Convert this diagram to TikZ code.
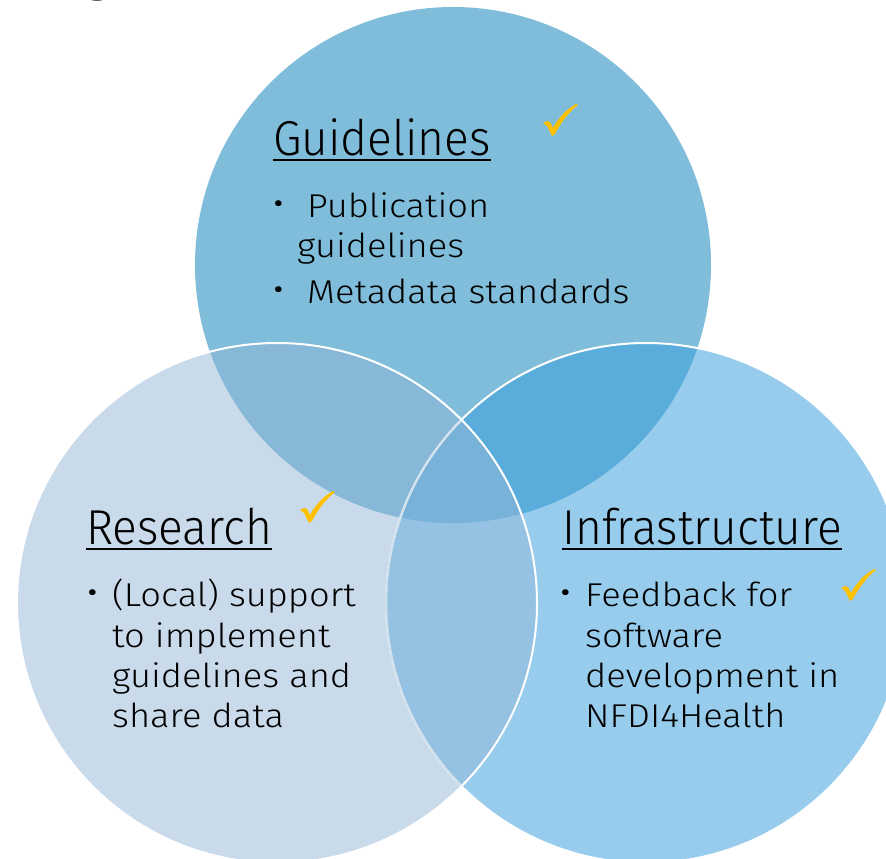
\documentclass[tikz,border=0pt]{standalone}
\usepackage{fontspec}
\setmainfont{Fira Sans}[UprightFont=* Light]
\newfontfamily\hdfont{Fira Sans}[UprightFont=* Light, FakeStretch=0.94]
\newfontfamily\bdfont{Fira Sans}[UprightFont=* Light, FakeStretch=1.1]
\definecolor{cT}{HTML}{7FBDDA}
\definecolor{cL}{HTML}{C9DAEA}
\definecolor{cR}{HTML}{97CCED}
\definecolor{cTL}{HTML}{88B8D8}
\definecolor{cTR}{HTML}{5AADDB}
\definecolor{cLR}{HTML}{95C1E3}
\definecolor{cTLR}{HTML}{79B2D9}
\definecolor{cFade}{HTML}{D2E1EC}
\definecolor{cY}{HTML}{FFC000}
\begin{document}
\begin{tikzpicture}[x=1pt,y=-1pt,
  hd/.style={anchor=base west, inner sep=0pt, font=\hdfont\fontsize{49}{55}\selectfont},
  bd/.style={anchor=base west, inner sep=0pt, font=\bdfont\fontsize{33}{39}\selectfont},
  bul/.style={anchor=base west, inner sep=0pt, font=\bdfont\fontsize{40}{44}\selectfont},
  ul/.style={line width=2pt, black},
  chk/.pic={\fill[cY] (0,19) -- (4,17) -- (7,18) -- (10,24) .. controls (16,13) and (24,5) .. (33,0) -- (35,1) .. controls (27,7) and (18,18) .. (12,30) -- (9,32) -- (7,28) -- (4,22) -- cycle;}]
\useasboundingbox (0,0) rectangle (886,859);
\clip (0,0) rectangle (886,859);
% base circles
\fill[cT] (453,265) circle[radius=258pt];
\fill[cR] (646,603) circle[radius=260pt];
\fill[cL] (277,603) circle[radius=260pt];
% pairwise overlaps
\begin{scope}
  \clip (453,265) circle[radius=258pt];
  \fill[cTL] (277,603) circle[radius=260pt];
  \fill[cTR] (646,603) circle[radius=260pt];
\end{scope}
\begin{scope}
  \clip (277,603) circle[radius=260pt];
  \fill[cLR] (646,603) circle[radius=260pt];
  \clip (453,265) circle[radius=258pt];
  \fill[cTLR] (646,603) circle[radius=260pt];
\end{scope}
% outlines
\draw[white, line width=2pt] (646,603) circle[radius=260pt];
\begin{scope}
  \clip (277,603) circle[radius=260pt];
  \draw[cFade, line width=2pt] (646,603) circle[radius=260pt];
\end{scope}
\draw[white, line width=2pt] (277,603) circle[radius=260pt];
% cut-off title fragment
\node[hd, font=\fontsize{52}{60}\selectfont] (tg) at (84,-9) {g};
% Guidelines
\node[hd] (gh) at (273,155) {Guidelines};
\draw[ul] ([yshift=-4.5pt]gh.base west) -- ([yshift=-4.5pt]gh.base east);
\node[bul] (gb1) at (272,217) {•};
\node[bd] (g1) at (307,217) {Publication};
\node[bd] (g2) at (297,257) {guidelines};
\node[bul] (gb2) at (272,303) {•};
\node[bd] (g3) at (307,303) {Metadata standards};
% Research
\node[hd] (rh) at (86,544) {Research};
\draw[ul] ([yshift=-4.5pt]rh.base west) -- ([yshift=-4.5pt]rh.base east);
\node[bul] (rb) at (86,606) {•};
\node[bd] (r1) at (112,606) {(Local) support};
\node[bd] (r2) at (112,647) {to implement};
\node[bd] (r3) at (112,687) {guidelines and};
\node[bd] (r4) at (112,727) {share data};
% Infrastructure
\node[hd] (ih) at (562,544) {Infrastructure};
\draw[ul] ([yshift=-4.5pt]ih.base west) -- ([yshift=-4.5pt]ih.base east);
\node[bul] (ib) at (559,606) {•};
\node[bd] (i1) at (585,606) {Feedback for};
\node[bd] (i2) at (585,647) {software};
\node[bd] (i3) at (585,687) {development in};
\node[bd] (i4) at (585,727) {NFDI4Health};
% check marks
\pic at (543,104) {chk};
\pic at (300,491) {chk};
\pic at (841,569) {chk};
\end{tikzpicture}
\end{document}
